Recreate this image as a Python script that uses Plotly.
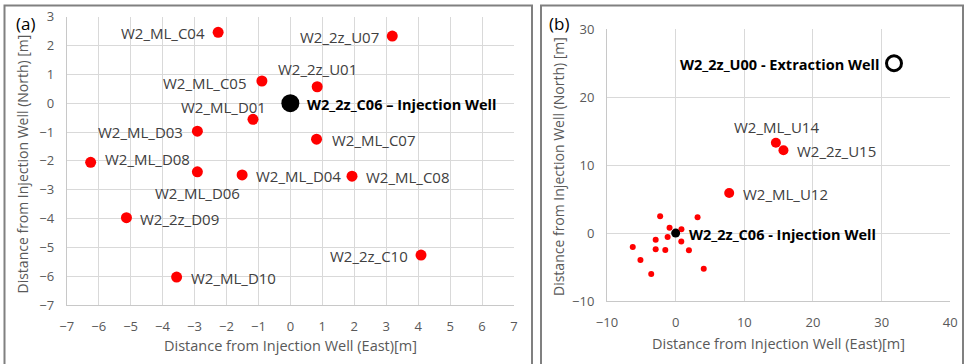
import plotly.graph_objects as go

# ---------------- data ----------------
names_a = ["W2_ML_C04", "W2_ML_C05", "W2_ML_D01", "W2_ML_D03", "W2_ML_D08",
           "W2_ML_D06", "W2_ML_D04", "W2_2z_D09", "W2_ML_D10", "W2_2z_U01",
           "W2_2z_U07", "W2_ML_C07", "W2_ML_C08", "W2_2z_C10"]
east_a = [-2.26, -0.89, -1.17, -2.91, -6.25, -2.91, -1.51, -5.13, -3.56, 0.84,
          3.19, 0.82, 1.93, 4.09]
north_a = [2.46, 0.77, -0.56, -0.97, -2.05, -2.38, -2.49, -3.97, -6.03, 0.57,
           2.33, -1.25, -2.53, -5.27]

inj_name_a = "W2_2z_C06 – Injection Well"
inj_name_b = "W2_2z_C06 - Injection Well"
inj_east = [0]
inj_north = [0]

names_far = ["W2_ML_U14", "W2_2z_U15", "W2_ML_U12"]
east_far = [14.6, 15.7, 7.8]
north_far = [13.3, 12.2, 5.9]

ext_name = "W2_2z_U00 - Extraction Well"
ext_east = [31.8]
ext_north = [25.0]

xticks_a = list(range(-7, 8))
yticks_a = list(range(-7, 4))
xticks_b = [-10, 0, 10, 20, 30, 40]
yticks_b = [-10, 0, 10, 20, 30]

x_title = "Distance from Injection Well (East)[m]"
y_title = "Distance from Injection Well (North) [m]"

# ---------------- label placement (style) ----------------
# (xanchor, xshift, yshift)
place_a = [("right", -11, -1), ("right", -13, -2), ("center", -29, 12),
           ("right", -12, -1), ("left", 12, 3), ("center", 0, -21),
           ("left", 12, -1), ("left", 12, -1), ("left", 12, -1),
           ("center", 0, 18), ("right", -11, -1), ("left", 13, -1),
           ("left", 12, -1), ("right", -11, -1)]
place_far = [("center", 1, 16), ("left", 12, -1), ("left", 12, -1)]

RED = "#ff0000"
LABEL_COLOR = "#404040"
TICK_COLOR = "#595959"
GRID = "#d9d9d9"
FONT = "Open Sans"
W, H = 966, 364

# plot-area pixel boxes (left, right, top, bottom)
A = (66.7, 514.0, 16.7, 305.0)
B = (607.0, 950.3, 29.3, 301.0)

fig = go.Figure()

# panel (a)
fig.add_trace(go.Scatter(x=east_a, y=north_a, mode="markers",
                         marker=dict(color=RED, size=11), xaxis="x", yaxis="y",
                         hoverinfo="text", text=names_a))
fig.add_trace(go.Scatter(x=inj_east, y=inj_north, mode="markers",
                         marker=dict(color="black", size=18), xaxis="x", yaxis="y"))

# panel (b)
fig.add_trace(go.Scatter(x=east_a, y=north_a, mode="markers",
                         marker=dict(color=RED, size=6), xaxis="x2", yaxis="y2"))
fig.add_trace(go.Scatter(x=east_far, y=north_far, mode="markers",
                         marker=dict(color=RED, size=10), xaxis="x2", yaxis="y2"))
fig.add_trace(go.Scatter(x=inj_east, y=inj_north, mode="markers",
                         marker=dict(color="black", size=9), xaxis="x2", yaxis="y2"))
fig.add_trace(go.Scatter(x=ext_east, y=ext_north, mode="markers",
                         marker=dict(color="white", size=15,
                                     line=dict(color="black", width=3)),
                         xaxis="x2", yaxis="y2"))

annotations = []
for n, x, y, (xa, dx, dy) in zip(names_a, east_a, north_a, place_a):
    annotations.append(dict(x=x, y=y, xref="x", yref="y", text=n, showarrow=False,
                            xanchor=xa, yanchor="middle", xshift=dx, yshift=dy,
                            font=dict(family=FONT, size=15, color=LABEL_COLOR)))
annotations.append(dict(x=inj_east[0], y=inj_north[0], xref="x", yref="y",
                        text="<b>" + inj_name_a + "</b>", showarrow=False,
                        xanchor="left", yanchor="middle", xshift=15, yshift=-1,
                        font=dict(family=FONT, size=14.5, color="black")))
for n, x, y, (xa, dx, dy) in zip(names_far, east_far, north_far, place_far):
    annotations.append(dict(x=x, y=y, xref="x2", yref="y2", text=n, showarrow=False,
                            xanchor=xa, yanchor="middle", xshift=dx, yshift=dy,
                            font=dict(family=FONT, size=15, color=LABEL_COLOR)))
annotations.append(dict(x=inj_east[0], y=inj_north[0], xref="x2", yref="y2",
                        text="<b>" + inj_name_b + "</b>", showarrow=False,
                        xanchor="left", yanchor="middle", xshift=11, yshift=-1,
                        font=dict(family=FONT, size=14.5, color="black")))
annotations.append(dict(x=ext_east[0], y=ext_north[0], xref="x2", yref="y2",
                        text="<b>" + ext_name + "</b>", showarrow=False,
                        xanchor="right", yanchor="middle", xshift=-13, yshift=-1,
                        font=dict(family=FONT, size=14.5, color="black")))


def px_x(p):
    return p / W


def px_y(p):
    return 1 - p / H


# axis titles
title_font = dict(family=FONT, size=14.5, color=TICK_COLOR)
annotations += [
    dict(x=px_x((A[0] + A[1]) / 2), y=px_y(345.5), xref="paper", yref="paper",
         text=x_title, showarrow=False, xanchor="center", yanchor="middle", font=title_font),
    dict(x=px_x(22.5), y=px_y(164), xref="paper", yref="paper",
         text=y_title, showarrow=False, xanchor="center", yanchor="middle",
         textangle=-90, font=dict(family=FONT, size=14, color=TICK_COLOR)),
    dict(x=px_x((B[0] + B[1]) / 2), y=px_y(343), xref="paper", yref="paper",
         text=x_title, showarrow=False, xanchor="center", yanchor="middle", font=title_font),
    dict(x=px_x(559), y=px_y(167), xref="paper", yref="paper",
         text=y_title, showarrow=False, xanchor="center", yanchor="middle",
         textangle=-90, font=dict(family=FONT, size=14, color=TICK_COLOR)),
]
# panel letters
annotations.append(dict(x=px_x(14), y=px_y(23), xref="paper", yref="paper",
                        text="(a)", showarrow=False, xanchor="left", yanchor="middle",
                        font=dict(family=FONT, size=17, color="black")))
annotations.append(dict(x=px_x(547), y=px_y(23), xref="paper", yref="paper",
                        text="(b)", showarrow=False, xanchor="left", yanchor="middle",
                        font=dict(family=FONT, size=17, color="black")))

axis_common = dict(showgrid=True, gridcolor=GRID, gridwidth=1, zeroline=False,
                   showline=True, linecolor="#c8c8c8", linewidth=1, mirror=False,
                   ticks="", automargin=False, ticklabelstandoff=9,
                   tickfont=dict(family=FONT, size=13, color=TICK_COLOR))

fig.update_layout(
    width=W, height=H, margin=dict(l=0, r=0, t=0, b=0, autoexpand=False),
    paper_bgcolor="white", plot_bgcolor="white", showlegend=False,
    xaxis=dict(axis_common, domain=[px_x(A[0]), px_x(A[1])], range=[-7, 7],
               tickvals=xticks_a, anchor="y"),
    yaxis=dict(axis_common, domain=[px_y(A[3]), px_y(A[2])], range=[-7, 3],
               tickvals=yticks_a, anchor="x"),
    xaxis2=dict(axis_common, domain=[px_x(B[0]), px_x(B[1])], range=[-10, 40],
                tickvals=xticks_b, anchor="y2"),
    yaxis2=dict(axis_common, domain=[px_y(B[3]), px_y(B[2])], range=[-10, 30],
                tickvals=yticks_b, anchor="x2"),
    annotations=annotations,
    shapes=[
        dict(type="path", xref="paper", yref="paper",
             path=f"M {px_x(4.5)} 0 L {px_x(4.5)} {px_y(5.5)} L {px_x(532)} {px_y(5.5)} L {px_x(532)} 0",
             line=dict(color="#808080", width=2)),
        dict(type="path", xref="paper", yref="paper",
             path=f"M {px_x(541)} 0 L {px_x(541)} {px_y(5.5)} L {px_x(963)} {px_y(5.5)} L {px_x(963)} 0",
             line=dict(color="#808080", width=2)),
    ],
)

fig.write_html("out.html", config={"displayModeBar": False},
               post_script="document.body.style.margin='0';document.body.style.overflow='hidden';")
